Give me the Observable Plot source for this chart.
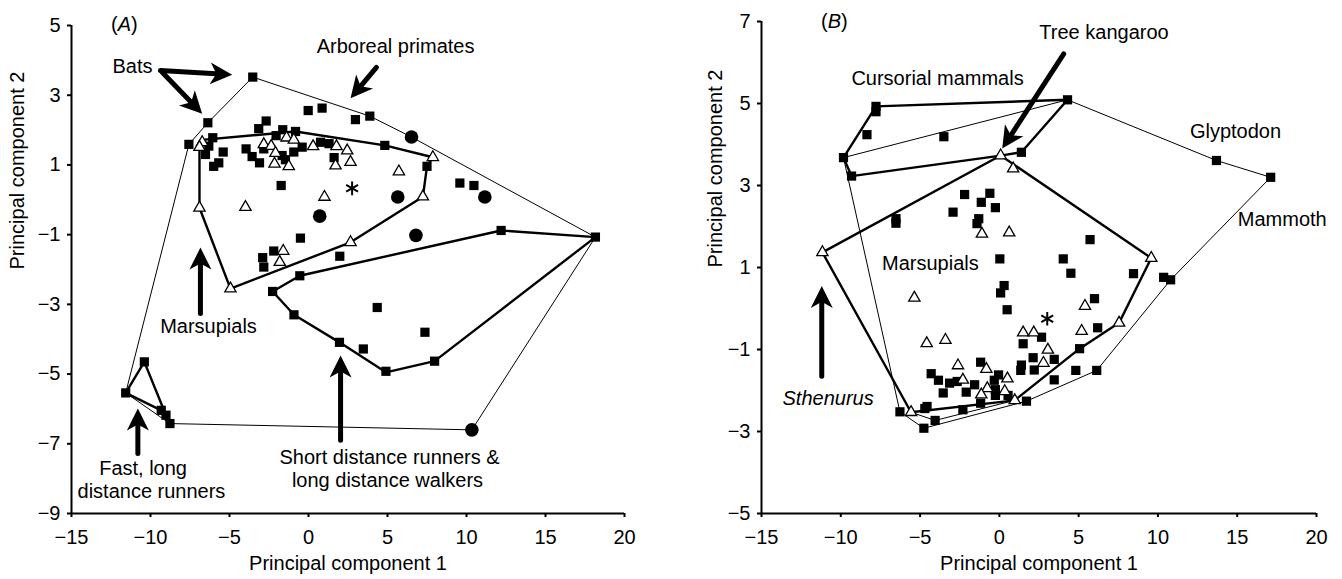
<!DOCTYPE html>
<html>
<head>
<meta charset="utf-8">
<script src="https://cdn.jsdelivr.net/npm/d3@7"></script>
<script src="https://cdn.jsdelivr.net/npm/@observablehq/plot@0.6"></script>
<style>
  html, body { margin: 0; padding: 0; background: #fff; }
  #wrap { display: flex; width: 1342px; height: 579px; }
</style>
</head>
<body>
<div id="wrap"></div>
<script>
// ---------- tick labels ----------
const xTicks = [-15, -10, -5, 0, 5, 10, 15, 20];
const yTicksA = [5, 3, 1, -1, -3, -5, -7, -9];
const yTicksB = [7, 5, 3, 1, -1, -3, -5];
const xLabel = "Principal component 1";
const yLabel = "Principal component 2";

// ---------- panel A data ----------
const aSquares = [
  [-3.53,3.52],[-6.37,2.21],[-7.57,1.59],[-6.06,1.78],[-6.31,1.54],[-6.52,1.30],[-5.4,1.37],
  [-5.68,1.06],[-6.0,0.96],[-3.95,1.46],[-3.57,1.24],[-3.1,1.06],[-3.15,2.04],[-2.68,2.26],
  [-2.05,1.84],[-1.63,2.01],[-0.82,1.96],[-0.4,1.51],[-0.02,2.56],[0.86,2.63],[-1.67,1.27],
  [-1.46,1.15],[-0.93,1.37],[0.76,1.65],[1.3,1.61],[1.62,1.21],[-2.83,1.46],[2.97,2.30],
  [3.88,2.40],[4.83,1.56],[7.5,0.96],[9.58,0.48],[10.47,0.41],[-1.73,0.41],[-0.51,-1.10],
  [-2.2,-1.47],[-2.9,-1.66],[-2.83,-1.93],[1.98,-1.62],[-0.55,-2.18],[-2.27,-2.63],
  [12.19,-0.88],[18.16,-1.07],[-0.92,-3.30],[1.96,-4.09],[3.47,-4.28],[4.35,-3.09],
  [7.37,-3.80],[4.9,-4.92],[7.98,-4.63],
  [-11.57,-5.54],[-10.39,-4.65],[-9.32,-6.04],[-9.02,-6.18],[-8.77,-6.42]
];
const aTriangles = [
  [-6.73,1.65],[-6.9,1.51],[-6.9,-0.23],[-4.94,-2.55],[-3.99,-0.21],[1.01,0.08],[-1.6,-1.47],
  [-1.82,-1.79],[-2.83,1.59],[-2.36,1.54],[-2.09,1.34],[-2.15,1.03],[-1.25,0.96],[-1.39,1.78],
  [-0.93,1.72],[0.29,1.53],[1.77,1.53],[1.71,0.98],[2.45,1.41],[2.66,1.08],[7.87,1.22],
  [5.72,0.81],[7.24,0.09],[2.66,-1.22]
];
const aCircles = [[6.52,1.80],[5.65,0.08],[0.71,-0.47],[6.8,-1.02],[11.16,0.08],[10.34,-6.60]];
const aStar = [[2.76,0.33]];
const aHullAll = [[-11.57,-5.54],[-7.57,1.59],[-6.37,2.21],[-3.53,3.52],[3.88,2.40],[6.52,1.80],
  [18.16,-1.07],[10.34,-6.60],[-8.77,-6.42],[-11.57,-5.54]];
const aHullMarsupials = [[-6.73,1.72],[-0.82,1.96],[4.83,1.56],[7.87,1.22],[7.5,0.96],[7.24,0.09],
  [2.66,-1.22],[-4.94,-2.55],[-6.9,-0.23],[-6.9,1.51],[-6.73,1.72]];
const aHullShort = [[-2.27,-2.63],[-0.55,-2.18],[12.19,-0.88],[18.16,-1.07],[7.98,-4.63],
  [4.9,-4.95],[1.96,-4.09],[-0.92,-3.30],[-2.27,-2.63]];
const aHullFast = [[-11.57,-5.54],[-10.39,-4.65],[-9.02,-6.18],[-9.32,-6.04],[-11.57,-5.54]];

// ---------- panel B data ----------
const bSquares = [
  [-7.78,4.93],[-7.78,4.80],[-8.35,4.24],[-3.5,4.19],[-9.83,3.68],[-9.32,3.23],[-6.52,2.19],
  [-6.52,2.08],[4.3,5.09],[1.39,3.81],[13.69,3.61],[17.11,3.2],
  [-2.19,2.78],[-0.6,2.81],[-1.14,2.59],[-0.25,2.46],[-2.92,2.35],[-1.3,2.19],[-1.41,2.07],
  [0.03,1.21],[0.3,0.56],[0.08,0.38],[0.49,-0.03],
  [5.72,1.68],[4.03,1.21],[4.51,0.86],[8.46,0.85],[10.36,0.76],[10.8,0.7],
  [6.0,0.24],[6.2,-0.47],[2.66,-0.70],[1.5,-0.86],[5.06,-0.98],
  [2.13,-1.20],[3.46,-1.24],[1.39,-1.38],[1.35,-1.51],[2.2,-1.5],[4.82,-1.51],[6.14,-1.51],
  [3.46,-1.74],[-1.18,-1.31],[-4.3,-1.59],[-3.84,-1.75],[-3.14,-1.82],[-2.66,-1.78],
  [-3.54,-2.06],[-2.09,-2.04],[-1.56,-1.86],[-0.32,-1.75],[-0.05,-1.62],[-0.25,-1.98],
  [-0.25,-2.12],[0.55,-2.12],[-1.18,-2.31],[-2.3,-2.47],[1.71,-2.26],[-4.56,-2.39],
  [-4.7,-2.44],[-6.27,-2.52],[-4.05,-2.73],[-4.76,-2.92]
];
const bTriangles = [
  [-11.16,1.37],[0.08,3.73],[0.87,3.41],[-1.1,1.82],[0.62,1.85],[9.58,1.23],[-5.36,0.26],
  [5.4,0.06],[5.19,-0.55],[-4.58,-0.85],[-3.4,-0.77],[1.5,-0.59],[2.17,-0.59],[3.06,-1.01],
  [7.55,-0.35],[-2.61,-1.39],[-2.3,-1.74],[-0.82,-1.48],[0.51,-1.71],[2.78,-1.33],
  [-0.76,-1.95],[0.34,-2.02],[-1.14,-2.1],[-5.57,-2.53],[0.97,-2.24]
];
const bStar = [[3.02,-0.25]];
const bHullAll = [[-9.83,3.68],[4.3,5.09],[13.69,3.61],[17.11,3.2],[10.8,0.7],[6.14,-1.51],
  [1.71,-2.26],[-4.76,-2.92],[-6.27,-2.52],[-9.83,3.68]];
const bHullCursorial = [[-9.83,3.68],[-7.78,4.93],[4.3,5.09],[1.39,3.81],[0.08,3.73],[-9.32,3.23],[-9.83,3.68]];
const bHullMarsupials = [[-11.16,1.37],[0.08,3.73],[9.58,1.23],[7.55,-0.35],[5.06,-0.98],
  [0.97,-2.24],[-5.57,-2.53],[-11.16,1.37]];
const bEdgeExtra = [[-5.57,-2.53],[-4.05,-2.73],[0.97,-2.24]];

// ---------- annotations ----------
const labelsA = [
  {x:-11.14, y:3.82, text:"Bats"},
  {x:5.51, y:4.40, text:"Arboreal primates"},
  {x:-6.33, y:-3.64, text:"Marsupials"},
  {x:-10.47, y:-7.71, text:"Fast, long"},
  {x:-9.94, y:-8.37, text:"distance runners"},
  {x:5.13, y:-7.39, text:"Short distance runners &"},
  {x:5.0, y:-8.05, text:"long distance walkers"}
];
const arrowsA = [
  {x1:-9.37, y1:3.71, x2:-4.83, y2:3.59},
  {x1:-9.26, y1:3.66, x2:-6.73, y2:2.47},
  {x1:4.30, y1:3.80, x2:2.66, y2:2.91},
  {x1:-6.84, y1:-3.26, x2:-6.84, y2:-1.37},
  {x1:-10.8, y1:-7.28, x2:-10.8, y2:-5.99},
  {x1:2.03, y1:-6.9, x2:2.03, y2:-4.47}
];
const labelsB = [
  {x:-3.9, y:5.61, text:"Cursorial mammals"},
  {x:6.6, y:6.72, text:"Tree kangaroo"},
  {x:14.89, y:4.32, text:"Glyptodon"},
  {x:17.84, y:2.17, text:"Mammoth"},
  {x:-4.35, y:1.09, text:"Marsupials"}
];
const italicB = [{x:-10.8, y:-2.2, text:"Sthenurus"}];
const arrowsB = [
  {x1:4.06, y1:6.21, x2:0.18, y2:3.9},
  {x1:-11.2, y1:-1.65, x2:-11.2, y2:0.55}
];
const panelTags = [{panel:"A", x:-11.65, y:5.03}, {panel:"B", x:-10.4, y:7.0}];

// ---------- helpers ----------
const FONT = "'Liberation Sans', Arial, Helvetica, sans-serif";
const px = d => d[0], py = d => d[1];
const arrowHead = {
  draw(ctx, size) {
    const r = Math.sqrt(size / Math.PI);
    const L = 2 * r, w = r;
    ctx.moveTo(0, 0);
    ctx.lineTo(w, L);
    ctx.lineTo(0, 0.72 * L);
    ctx.lineTo(-w, L);
    ctx.closePath();
  }
};

function panel(cfg) {
  const W = 671, H = 579;
  const kx = (W - cfg.ml - cfg.mr) / (cfg.xd[1] - cfg.xd[0]);
  const ky = (H - cfg.mt - cfg.mb) / (cfg.yd[1] - cfg.yd[0]);
  const rot = a => Math.atan2((a.x2 - a.x1) * kx, (a.y2 - a.y1) * ky) * 180 / Math.PI;
  const thin = cfg.thinHulls.map(h => Plot.line(h, {x: px, y: py, stroke: "black", strokeWidth: 1, strokeLinejoin: "round"}));
  const thick = cfg.thickHulls.map(h => Plot.line(h, {x: px, y: py, stroke: "black", strokeWidth: 2.4, strokeLinejoin: "round"}));
  const marks = [
    ...thin, ...thick,
    Plot.dot(cfg.squares, {x: px, y: py, symbol: "square", r: 5.2, fill: "black"}),
    Plot.dot(cfg.triangles, {x: px, y: py, symbol: "triangle", r: 4.2, fill: "white", stroke: "black", strokeWidth: 1.3}),
    Plot.dot(cfg.circles, {x: px, y: py, r: 6.8, fill: "black"}),
    Plot.dot(cfg.star, {x: px, y: py, symbol: "asterisk", r: 6.5, stroke: "black", strokeWidth: 2}),
    Plot.arrow(cfg.arrows, {x1: "x1", y1: "y1", x2: "x2", y2: "y2", stroke: "black", strokeWidth: 5, headLength: 0, insetEnd: 12}),
    Plot.dot(cfg.arrows, {x: "x2", y: "y2", symbol: arrowHead, r: 11, fill: "black", rotate: rot}),
    Plot.text(cfg.labels, {x: "x", y: "y", text: "text", fontSize: 20, fill: "black"}),
    Plot.text(cfg.italic, {x: "x", y: "y", text: "text", fontSize: 20, fontStyle: "italic", fill: "black"}),
    Plot.text(cfg.tag, {x: "x", y: "y", text: d => "(" + d.panel + ")", fontSize: 20, fill: "black"}),
    Plot.ruleX([cfg.xd[0]], {stroke: "black", strokeWidth: 2}),
    Plot.ruleY([cfg.yd[0]], {stroke: "black", strokeWidth: 2}),
    Plot.axisX({ticks: xTicks, tickSize: 4, tickPadding: 12, strokeWidth: 2, fontSize: 20, label: null, tickFormat: d3.format("d")}),
    Plot.axisY({ticks: cfg.yTicks, tickSize: 4, tickPadding: 7, strokeWidth: 2, fontSize: 20, label: null, tickFormat: d3.format("d")}),
    Plot.text([xLabel], {frameAnchor: "bottom", dy: 56, fontSize: 20, fill: "black"}),
    Plot.text([yLabel], {frameAnchor: "left", dx: cfg.ylabDx, rotate: -90, fontSize: 20, fill: "black"})
  ];
  const svg = Plot.plot({
    width: W, height: H,
    marginLeft: cfg.ml, marginRight: cfg.mr, marginTop: cfg.mt, marginBottom: cfg.mb,
    x: {domain: cfg.xd},
    y: {domain: cfg.yd},
    style: {background: "white", color: "black", fontFamily: FONT, fontSize: "20px", overflow: "visible"},
    marks
  });
  // italic panel letter inside upright parentheses
  d3.select(svg).selectAll("text").filter(function () { return this.textContent === "(" + cfg.tag[0].panel + ")"; })
    .each(function () {
      const t = d3.select(this);
      t.text("(");
      t.append("tspan").attr("font-style", "italic").text(cfg.tag[0].panel);
      t.append("tspan").text(")");
    });
  return svg;
}

const wrap = document.getElementById("wrap");
wrap.appendChild(panel({
  ml: 71, mr: 47, mt: 25, mb: 66, xd: [-15, 20], yd: [-9, 5], yTicks: yTicksA, ylabDx: -54,
  thinHulls: [aHullAll], thickHulls: [aHullMarsupials, aHullShort, aHullFast],
  squares: aSquares, triangles: aTriangles, circles: aCircles, star: aStar,
  arrows: arrowsA, labels: labelsA, italic: [], tag: [panelTags[0]]
}));
wrap.appendChild(panel({
  ml: 90, mr: 26, mt: 21, mb: 66, xd: [-15, 20], yd: [-5, 7], yTicks: yTicksB, ylabDx: -46,
  thinHulls: [bHullAll, bEdgeExtra], thickHulls: [bHullCursorial, bHullMarsupials],
  squares: bSquares, triangles: bTriangles, circles: [], star: bStar,
  arrows: arrowsB, labels: labelsB, italic: italicB, tag: [panelTags[1]]
}));
</script>
</body>
</html>
